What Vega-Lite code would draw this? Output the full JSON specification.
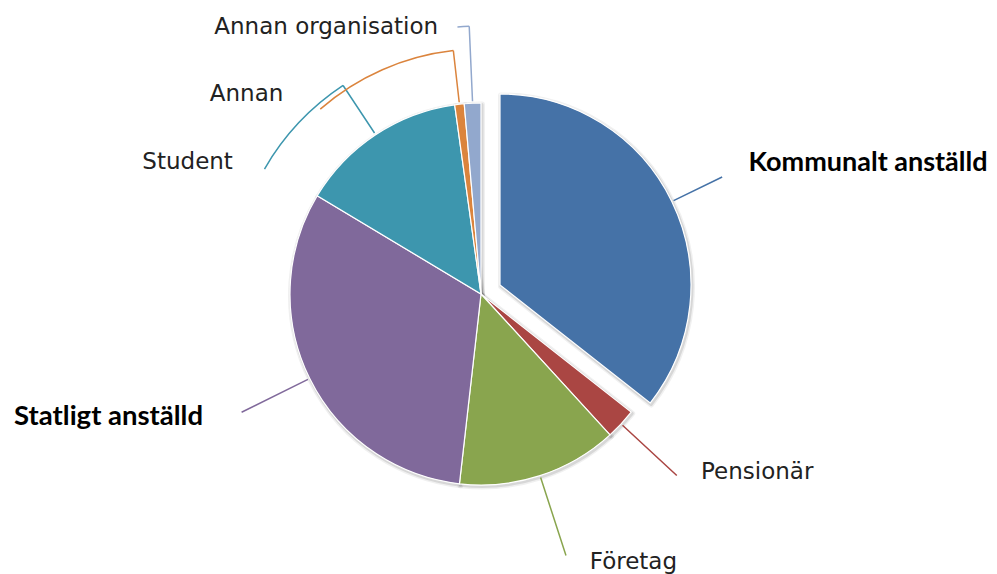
{
  "$schema": "https://vega.github.io/schema/vega-lite/v6.json",
  "width": 962,
  "height": 560,
  "autosize": {"type": "none"},
  "padding": {"left": 0, "top": 14, "right": 35, "bottom": 0},
  "background": "white",
  "config": {"view": {"stroke": null}},
  "data": {
    "values": [
      {"cat": "Kommunalt anställd", "value": 35.6, "rank": 1},
      {"cat": "Pensionär", "value": 2.6, "rank": 2},
      {"cat": "Företag", "value": 13.6, "rank": 3},
      {"cat": "Statligt anställd", "value": 31.8, "rank": 4},
      {"cat": "Student", "value": 14.2, "rank": 5},
      {"cat": "Annan", "value": 0.8, "rank": 6},
      {"cat": "Annan organisation", "value": 1.4, "rank": 7}
    ]
  },
  "transform": [
    {"stack": "value", "groupby": [], "sort": [{"field": "rank", "order": "ascending"}], "as": ["s", "e"]}
  ],
  "encoding": {
    "theta": {"field": "s", "type": "quantitative", "stack": null, "scale": {"domain": [0, 100], "range": [0, 6.283185307179586], "nice": false, "zero": false}}
  },
  "layer": [
    {
      "transform": [{"filter": "datum.cat !== 'Kommunalt anställd'"}],
      "mark": {"type": "arc", "outerRadius": 191, "filled": false, "stroke": "#000", "strokeWidth": 6, "strokeOpacity": 0.06, "strokeJoin": "round", "xOffset": 1, "yOffset": 1.5},
      "encoding": {"theta2": {"field": "e"}}
    },
    {
      "transform": [{"filter": "datum.cat !== 'Kommunalt anställd'"}],
      "mark": {"type": "arc", "outerRadius": 191, "filled": false, "stroke": "#000", "strokeWidth": 3, "strokeOpacity": 0.1, "strokeJoin": "round", "xOffset": 1, "yOffset": 1.5},
      "encoding": {"theta2": {"field": "e"}}
    },
    {
      "transform": [{"filter": "datum.cat === 'Kommunalt anställd'"}],
      "mark": {"type": "arc", "outerRadius": 191, "filled": false, "stroke": "#000", "strokeWidth": 6, "strokeOpacity": 0.06, "strokeJoin": "round", "xOffset": 20, "yOffset": -7.5},
      "encoding": {"theta2": {"field": "e"}}
    },
    {
      "transform": [{"filter": "datum.cat === 'Kommunalt anställd'"}],
      "mark": {"type": "arc", "outerRadius": 191, "filled": false, "stroke": "#000", "strokeWidth": 3, "strokeOpacity": 0.1, "strokeJoin": "round", "xOffset": 20, "yOffset": -7.5},
      "encoding": {"theta2": {"field": "e"}}
    },
    {
      "transform": [{"filter": "datum.cat !== 'Kommunalt anställd'"}],
      "mark": {"type": "arc", "outerRadius": 191, "stroke": "#ffffff", "strokeWidth": 1.2},
      "encoding": {
        "theta2": {"field": "e"},
        "color": {"field": "cat", "type": "nominal", "legend": null, "scale": {"domain": ["Kommunalt anställd", "Pensionär", "Företag", "Statligt anställd", "Student", "Annan", "Annan organisation"], "range": ["#4572A7", "#AA4643", "#89A54E", "#80699B", "#3D96AE", "#DB843D", "#92A8CD"]}}
      }
    },
    {
      "transform": [{"filter": "datum.cat === 'Kommunalt anställd'"}],
      "mark": {"type": "arc", "outerRadius": 191, "stroke": "#ffffff", "strokeWidth": 1.2, "xOffset": 19, "yOffset": -9},
      "encoding": {
        "theta2": {"field": "e"},
        "color": {"field": "cat", "type": "nominal", "legend": null}
      }
    },
    {
      "transform": [{"filter": "datum.cat === 'Pensionär' || datum.cat === 'Statligt anställd'"}],
      "mark": {"type": "arc", "filled": false, "padAngle": 3, "innerRadius": 193, "outerRadius": 267, "strokeWidth": 1.5, "strokeCap": "round"},
      "encoding": {"theta2": {"field": "e"}, "color": {"field": "cat", "type": "nominal", "legend": null}}
    },
    {
      "transform": [{"filter": "datum.cat === 'Företag'"}],
      "mark": {"type": "arc", "filled": false, "padAngle": 3, "innerRadius": 193, "outerRadius": 275, "strokeWidth": 1.5, "strokeCap": "round"},
      "encoding": {"theta2": {"field": "e"}, "color": {"field": "cat", "type": "nominal", "legend": null}}
    },
    {
      "transform": [{"filter": "datum.cat === 'Kommunalt anställd'"}],
      "mark": {"type": "arc", "filled": false, "padAngle": 3, "innerRadius": 193, "outerRadius": 247, "strokeWidth": 1.5, "strokeCap": "round", "xOffset": 19, "yOffset": -9},
      "encoding": {"theta2": {"field": "e"}, "color": {"field": "cat", "type": "nominal", "legend": null}}
    },
    {
      "transform": [{"filter": "datum.cat === 'Student'"}],
      "mark": {"type": "arc", "filled": false, "padAngle": 3, "innerRadius": 193, "outerRadius": 250, "strokeWidth": 1.5, "strokeCap": "round"},
      "encoding": {"theta2": {"field": "e"}, "color": {"field": "cat", "type": "nominal", "legend": null}}
    },
    {
      "transform": [{"filter": "datum.cat === 'Student'"}],
      "mark": {"type": "arc", "filled": false, "innerRadius": 250, "outerRadius": 250, "thetaOffset": -0.0168, "theta2Offset": -0.4461, "strokeWidth": 1.5, "strokeCap": "round"},
      "encoding": {"theta2": {"field": "e"}, "color": {"field": "cat", "type": "nominal", "legend": null}}
    },
    {
      "transform": [{"filter": "datum.cat === 'Annan'"}],
      "mark": {"type": "arc", "filled": false, "padAngle": 3, "innerRadius": 193, "outerRadius": 245, "strokeWidth": 1.5, "strokeCap": "round"},
      "encoding": {"theta2": {"field": "e"}, "color": {"field": "cat", "type": "nominal", "legend": null}}
    },
    {
      "transform": [{"filter": "datum.cat === 'Annan'"}],
      "mark": {"type": "arc", "filled": false, "innerRadius": 245, "outerRadius": 245, "thetaOffset": -0.5774, "theta2Offset": -0.0251, "strokeWidth": 1.5, "strokeCap": "round"},
      "encoding": {"theta2": {"field": "e"}, "color": {"field": "cat", "type": "nominal", "legend": null}}
    },
    {
      "transform": [{"filter": "datum.cat === 'Annan organisation'"}],
      "mark": {"type": "arc", "filled": false, "padAngle": 3, "innerRadius": 193, "outerRadius": 268, "strokeWidth": 1.5, "strokeCap": "round"},
      "encoding": {"theta2": {"field": "e"}, "color": {"field": "cat", "type": "nominal", "legend": null}}
    },
    {
      "transform": [{"filter": "datum.cat === 'Annan organisation'"}],
      "mark": {"type": "arc", "filled": false, "innerRadius": 268, "outerRadius": 268, "thetaOffset": 0.0, "theta2Offset": -0.044, "strokeWidth": 1.5, "strokeCap": "round"},
      "encoding": {"theta2": {"field": "e"}, "color": {"field": "cat", "type": "nominal", "legend": null}}
    },
    {
      "transform": [{"filter": "datum.cat === 'Kommunalt anställd'"}],
      "mark": {"type": "text", "radius": 277, "thetaOffset": 1.1135, "align": "left", "baseline": "middle", "font": "Lato", "fontWeight": "bold", "fontSize": 27, "fill": "#000000", "xOffset": 19, "yOffset": -9},
      "encoding": {"text": {"field": "cat"}}
    },
    {
      "transform": [{"filter": "datum.cat === 'Statligt anställd'"}],
      "mark": {"type": "text", "radius": 304, "thetaOffset": 1.0406, "align": "right", "baseline": "middle", "font": "Lato", "fontWeight": "bold", "fontSize": 27.5, "fill": "#000000"},
      "encoding": {"text": {"field": "cat"}}
    },
    {
      "transform": [{"filter": "datum.cat === 'Pensionär'"}],
      "mark": {"type": "text", "radius": 283, "thetaOffset": 0.0141, "align": "left", "baseline": "middle", "font": "DejaVu Sans", "fontSize": 23, "fill": "#222222"},
      "encoding": {"text": {"field": "cat"}}
    },
    {
      "transform": [{"filter": "datum.cat === 'Företag'"}],
      "mark": {"type": "text", "radius": 289, "thetaOffset": 0.3557, "align": "left", "baseline": "middle", "font": "DejaVu Sans", "fontSize": 23, "fill": "#222222"},
      "encoding": {"text": {"field": "cat"}}
    },
    {
      "transform": [{"filter": "datum.cat === 'Student'"}],
      "mark": {"type": "text", "radius": 281, "thetaOffset": -0.0517, "align": "right", "baseline": "middle", "font": "DejaVu Sans", "fontSize": 23, "fill": "#222222"},
      "encoding": {"text": {"field": "cat"}}
    },
    {
      "transform": [{"filter": "datum.cat === 'Annan'"}],
      "mark": {"type": "text", "radius": 281, "thetaOffset": -0.6419, "align": "right", "baseline": "middle", "font": "DejaVu Sans", "fontSize": 23, "fill": "#222222"},
      "encoding": {"text": {"field": "cat"}}
    },
    {
      "transform": [{"filter": "datum.cat === 'Annan organisation'"}],
      "mark": {"type": "text", "radius": 270, "thetaOffset": -0.0717, "align": "right", "baseline": "middle", "font": "DejaVu Sans", "fontSize": 23, "fill": "#222222"},
      "encoding": {"text": {"field": "cat"}}
    }
  ]
}
